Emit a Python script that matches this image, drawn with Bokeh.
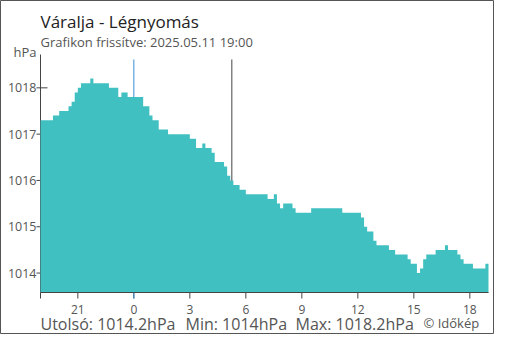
import math
from bokeh.plotting import figure
from bokeh.models import Label, Range1d
from bokeh.core.properties import value
from bokeh.embed import file_html
from bokeh.resources import INLINE

# --- data -------------------------------------------------------------
title_text = "Váralja - Légnyomás"
subtitle_text = "Grafikon frissítve: 2025.05.11 19:00"
unit = "hPa"
start_hour = -5          # 19:00 of the previous day, hours relative to midnight
end_hour = 19
step_minutes = 10

pressure = [
    1017.3, 1017.3, 1017.3, 1017.3, 1017.4, 1017.4, 1017.5, 1017.5, 1017.5, 1017.6,
    1017.7, 1017.9, 1018.0, 1018.1, 1018.1, 1018.1, 1018.2, 1018.1, 1018.1, 1018.1,
    1018.1, 1018.1, 1018.0, 1018.0, 1018.0, 1017.8, 1017.9, 1017.9, 1017.8, 1017.8,
    1017.8, 1017.8, 1017.8, 1017.6, 1017.6, 1017.4, 1017.3, 1017.3, 1017.1, 1017.1,
    1017.1, 1017.0, 1017.0, 1017.0, 1017.0, 1017.0, 1017.0, 1017.0, 1016.9, 1016.9,
    1016.7, 1016.7, 1016.8, 1016.7, 1016.7, 1016.6, 1016.4, 1016.4, 1016.4, 1016.3,
    1016.1, 1016.0, 1015.9, 1015.9, 1015.8, 1015.8, 1015.7, 1015.7, 1015.7, 1015.7,
    1015.7, 1015.7, 1015.7, 1015.6, 1015.6, 1015.7, 1015.5, 1015.4, 1015.5, 1015.5,
    1015.5, 1015.4, 1015.3, 1015.3, 1015.3, 1015.3, 1015.3, 1015.4, 1015.4, 1015.4,
    1015.4, 1015.4, 1015.4, 1015.4, 1015.4, 1015.4, 1015.4, 1015.3, 1015.3, 1015.3,
    1015.3, 1015.3, 1015.3, 1015.2, 1015.0, 1014.9, 1014.9, 1014.7, 1014.6, 1014.6,
    1014.6, 1014.6, 1014.5, 1014.5, 1014.4, 1014.4, 1014.4, 1014.4, 1014.3, 1014.2,
    1014.2, 1014.0, 1014.1, 1014.3, 1014.4, 1014.4, 1014.4, 1014.5, 1014.5, 1014.5,
    1014.6, 1014.5, 1014.5, 1014.5, 1014.4, 1014.3, 1014.2, 1014.2, 1014.2, 1014.1,
    1014.1, 1014.1, 1014.1, 1014.2,
]

x_ticks = [-5, -3, 0, 3, 6, 9, 12, 15, 18]
x_tick_labels = ["", "21", "0", "3", "6", "9", "12", "15", "18"]
y_ticks = [1014, 1015, 1016, 1017, 1018]
y_tick_labels = ["1014", "1015", "1016", "1017", "1018"]

marker_hours = [0, 5.25]
marker_colors = ["#3b8fd6", "#444444"]

y_min, y_max = 1013.58, 1018.72

# --- layout (pixels) --------------------------------------------------
W, H = 494, 334
PX_LEFT, PX_RIGHT = 40, 488      # plot area left/right
PX_TOP, PX_BOTTOM = 54, 292      # y_max / y_min levels
xpp = (end_hour - start_hour) / (PX_RIGHT - PX_LEFT)
ypp = (y_max - y_min) / (PX_BOTTOM - PX_TOP)

FONT = "Open Sans"
TEXT = "#555555"
AXIS = "#444444"

p = figure(width=W, height=H, output_backend="svg", toolbar_location=None,
           x_axis_type=None, y_axis_type=None,
           x_range=Range1d(start_hour - PX_LEFT * xpp, end_hour + (W - PX_RIGHT) * xpp),
           y_range=Range1d(y_min - (H - PX_BOTTOM) * ypp, y_max + PX_TOP * ypp),
           min_border=0, min_border_left=0, min_border_right=0,
           min_border_top=0, min_border_bottom=0)
p.outline_line_color = "#555555"
p.outline_line_width = 1
p.background_fill_color = "white"
p.border_fill_color = "white"
p.xgrid.visible = False
p.ygrid.visible = False

# y axis line and ticks (below the area, as in the reference)
p.segment(x0=[start_hour], y0=[y_min], x1=[start_hour], y1=[y_max],
          line_color=AXIS, line_width=1)
p.ray(x=[start_hour] * len(y_ticks), y=y_ticks, length=4, angle=math.pi,
      length_units="screen", line_color=AXIS, line_width=1)
p.ray(x=[start_hour] * len(y_ticks), y=y_ticks, length=7, angle=0,
      length_units="screen", line_color=AXIS, line_width=1)
p.text(x=[start_hour] * len(y_ticks), y=y_ticks, text=y_tick_labels, x_offset=-4,
       text_align="right", text_baseline="middle", text_font=value(FONT),
       text_font_size="12.5px", text_color=TEXT)

# x ticks
p.ray(x=x_ticks, y=[y_min] * len(x_ticks), length=6, angle=-math.pi / 2,
      length_units="screen", line_color=AXIS, line_width=1)
p.text(x=x_ticks, y=[y_min] * len(x_ticks), text=x_tick_labels, y_offset=17,
       text_align="center", text_baseline="alphabetic", text_font=value(FONT),
       text_font_size="12px", text_color=TEXT)

# vertical marker lines
marker_bottom = [y_min - 6 * ypp, y_min]
marker_top = [y_max - 5 * ypp] * len(marker_hours)
p.segment(x0=marker_hours, x1=marker_hours, y0=marker_bottom, y1=marker_top,
          line_color=marker_colors, line_width=1)

# pressure area
times = [start_hour + i * step_minutes / 60 for i in range(len(pressure))] + [end_hour]
vals = pressure + [pressure[-1]]
p.varea_step(x=times, y1=[y_min] * len(times), y2=vals, step_mode="after",
             fill_color="#41c0c1", fill_alpha=1.0)

# x axis line on top
p.segment(x0=[start_hour], y0=[y_min], x1=[end_hour], y1=[y_min],
          line_color=AXIS, line_width=1)

# texts (screen units from the bottom-left corner of the canvas)
def add_label(txt, x, y_from_top, size, color):
    p.add_layout(Label(x=x, y=H - y_from_top, x_units="screen", y_units="screen",
                       text=txt, text_font=FONT, text_font_size=size, text_color=color,
                       text_baseline="alphabetic", text_align="left"))

add_label(title_text, 40, 21, "17px", "#222222")
add_label(subtitle_text, 40, 41, "13px", TEXT)
add_label(unit, 13, 51.5, "13px", TEXT)

last_v = pressure[-1]
min_v = min(pressure)
max_v = max(pressure)
add_label(f"Utolsó: {last_v:g}{unit}", 40, 323.5, "16px", TEXT)
add_label(f"Min: {min_v:g}{unit}", 185, 323.5, "16px", TEXT)
add_label(f"Max: {max_v:g}{unit}", 295, 323.5, "16px", TEXT)
add_label("© Időkép", 423, 322, "13px", TEXT)

open("out.html", "w").write(file_html(p, INLINE))
